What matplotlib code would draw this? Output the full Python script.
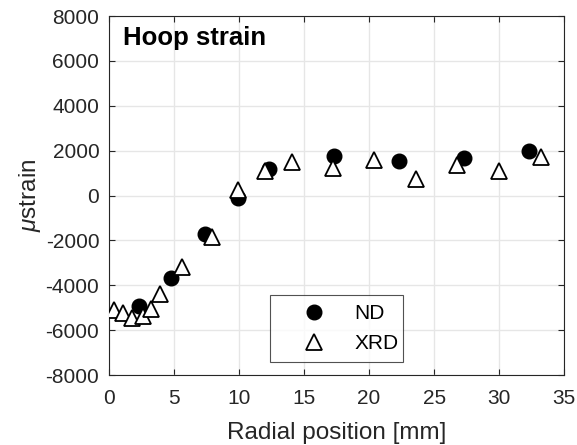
import matplotlib
matplotlib.use("Agg")
import matplotlib.pyplot as plt

# Neutron diffraction (ND) hoop strain
nd_r = [2.3, 4.8, 7.4, 9.9, 12.3, 17.3, 22.3, 27.3, 32.3]
nd_strain = [-4900, -3650, -1700, -100, 1200, 1750, 1520, 1670, 1980]

# X-ray diffraction (XRD) hoop strain
xrd_r = [0.4, 1.1, 1.8, 2.6, 3.2, 3.9, 5.6, 7.9, 9.9, 12.0, 14.1, 17.2,
         20.4, 23.6, 26.8, 30.0, 33.2]
xrd_strain = [-5100, -5250, -5450, -5350, -5050, -4400, -3200, -1850, 250,
              1100, 1500, 1250, 1600, 750, 1350, 1100, 1700]

x_ticks = [0, 5, 10, 15, 20, 25, 30, 35]
y_ticks = [-8000, -6000, -4000, -2000, 0, 2000, 4000, 6000, 8000]

plt.rcParams['font.family'] = ['Liberation Sans', 'DejaVu Sans']
plt.rcParams['mathtext.fontset'] = 'custom'
plt.rcParams['mathtext.it'] = 'Liberation Sans:italic'
plt.rcParams['mathtext.rm'] = 'Liberation Sans'
plt.rcParams['axes.unicode_minus'] = False

dark = '#262626'

fig = plt.figure(figsize=(5.77, 4.45), dpi=100)
ax = fig.add_axes([0.189, 0.157, 0.7886, 0.807])

ax.plot(nd_r, nd_strain, linestyle='none', marker='o', markersize=10.5,
        markerfacecolor='black', markeredgecolor='black', label='ND', zorder=3)
ax.plot(xrd_r, xrd_strain, linestyle='none', marker='^', markersize=12,
        markerfacecolor='white', markeredgecolor='black', markeredgewidth=1.3,
        label='XRD', zorder=4)

ax.set_xlim(0, 35)
ax.set_ylim(-8000, 8000)
ax.set_xticks(x_ticks)
ax.set_yticks(y_ticks)
ax.tick_params(direction='in', length=4, width=0.8, labelsize=15,
               colors=dark, top=True, right=True)
ax.tick_params(axis='x', pad=10)
ax.tick_params(axis='y', pad=7)
ax.grid(True, color='#e6e6e6', linewidth=1)
ax.set_axisbelow(True)
for s in ax.spines.values():
    s.set_color(dark)
    s.set_linewidth(0.8)

ax.set_xlabel('Radial position [mm]', fontsize=17.5, color=dark, labelpad=10)
ax.set_ylabel(r'$\mu$strain', fontsize=17.5, color=dark, labelpad=2)
ax.text(0.031, 0.919, 'Hoop strain', transform=ax.transAxes, fontsize=18.5,
        fontweight='bold', va='baseline', ha='left')

leg = ax.legend(loc='lower left', bbox_to_anchor=(0.354, 0.036, 0.292, 0.181),
                mode='expand', fontsize=15, frameon=True, fancybox=False,
                edgecolor=dark, handlelength=3.3, handletextpad=0.3,
                borderpad=0.45, labelspacing=0.5, borderaxespad=0)
leg.get_frame().set_linewidth(0.8)

fig.savefig('out.png', dpi=100)
